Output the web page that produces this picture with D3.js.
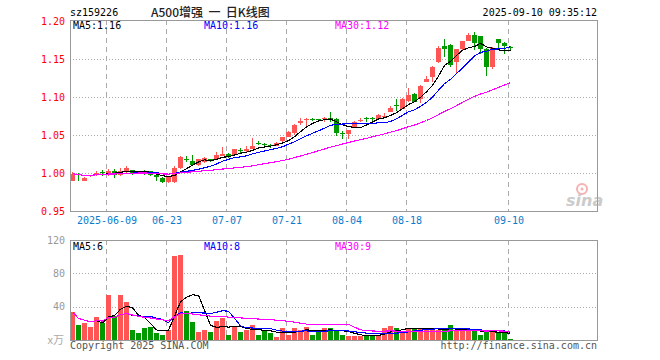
<!DOCTYPE html>
<html><head><meta charset="utf-8">
<script src="https://cdn.jsdelivr.net/npm/d3@7"></script>
<style>
html,body{margin:0;padding:0;background:#fff;}
svg{display:block;}
text{font-family:"DejaVu Sans Mono",monospace;font-size:10px;}
</style></head><body>
<svg id="c" width="660" height="360"></svg>
<script>
// ---- data ----
const opens  = [0.990,0.999,0.990,0.996,0.997,1.001,0.998,1.002,0.997,1.001,
                1.004,1.002,1.002,1.002,0.998,0.993,0.988,0.988,1.006,1.019,
                1.016,1.010,1.014,1.018,1.018,1.022,1.025,1.024,1.030,1.029,
                1.032,1.039,1.038,1.037,1.036,1.042,1.048,1.052,1.066,1.070,
                1.071,1.071,1.071,1.073,1.071,1.053,1.051,1.059,1.068,1.072,
                1.072,1.071,1.074,1.080,1.089,1.084,1.095,1.104,1.097,1.120,
                1.126,1.146,1.167,1.168,1.146,1.163,1.174,1.182,1.180,1.163,
                1.140,1.176,1.171,1.166];
const highs  = [1.001,1.000,0.995,0.998,1.002,1.004,1.005,1.005,1.007,1.009,
                1.004,1.003,1.004,1.002,0.998,0.995,0.996,1.009,1.023,1.023,
                1.024,1.019,1.021,1.019,1.027,1.034,1.026,1.032,1.033,1.035,
                1.046,1.042,1.040,1.038,1.041,1.048,1.055,1.064,1.073,1.072,
                1.072,1.071,1.074,1.080,1.072,1.055,1.057,1.068,1.072,1.074,
                1.074,1.077,1.079,1.088,1.097,1.099,1.112,1.105,1.116,1.128,
                1.141,1.167,1.176,1.170,1.163,1.174,1.184,1.185,1.180,1.164,
                1.166,1.176,1.173,1.167];
const lows   = [0.989,0.990,0.989,0.995,0.996,0.996,0.996,0.993,0.996,1.000,
                0.998,1.000,0.997,0.996,0.990,0.987,0.987,0.987,1.005,1.015,
                1.010,1.009,1.013,1.014,1.018,1.022,1.020,1.024,1.026,1.028,
                1.031,1.037,1.034,1.033,1.036,1.041,1.047,1.050,1.063,1.062,
                1.068,1.067,1.067,1.067,1.049,1.045,1.045,1.059,1.067,1.067,
                1.068,1.071,1.073,1.080,1.082,1.084,1.094,1.093,1.092,1.120,
                1.120,1.145,1.153,1.139,1.132,1.161,1.174,1.162,1.157,1.127,
                1.137,1.165,1.157,1.162];
const closes = [0.999,0.997,0.994,0.998,1.000,1.000,1.003,0.998,1.003,1.007,
                0.999,1.001,1.001,0.997,0.995,0.988,0.996,1.007,1.021,1.017,
                1.010,1.018,1.020,1.017,1.024,1.025,1.021,1.031,1.029,1.031,
                1.036,1.038,1.037,1.035,1.040,1.047,1.054,1.063,1.068,1.071,
                1.070,1.070,1.072,1.072,1.053,1.051,1.057,1.067,1.070,1.071,
                1.071,1.076,1.075,1.086,1.088,1.098,1.103,1.094,1.115,1.124,
                1.140,1.165,1.163,1.142,1.163,1.174,1.182,1.171,1.163,1.140,
                1.165,1.171,1.167,1.165];
const volumes = [34,17.5,20,16,28,21,53.5,28.5,53.5,46,
                 12.5,9,15,16,8,6.5,12.5,100.5,102,34.5,
                 21.5,9.5,12.5,10,22.5,26,6.5,16,10,12,
                 18.5,6.5,10.5,8,4,15,6.5,14,11.5,16,
                 6.5,10,14,14,11,6.5,4.5,4.5,4.5,6.5,
                 6.5,4.5,14,16.5,15,11,14.5,14.5,14.5,13,
                 12,12,12.5,17.5,12,12,12,10.5,6.5,10.5,
                 10.5,8.5,8.5,1.5];
const tickIndex  = [6,16,26,36,46,56,73];
const tickLabels = ["2025-06-09","06-23","07-07","07-21","08-04","08-18","09-10"];
const priceTicks = [0.95,1.00,1.05,1.10,1.15,1.20];
const volTicks   = [40,80,120];
const priceMALabels = ["MA5:1.16","MA10:1.16","MA30:1.12"];
const volMALabels   = ["MA5:6","MA10:8","MA30:9"];
const maPeriods = [5,10,30];
const maColors  = ["#000000","#0000ff","#ff00ff"];

// ---- helpers ----
function movingAvg(arr, n){
  // MA5/MA10 start once n points exist; MA30 uses the available points at the start
  return arr.map((_,i)=>{
    if(n<30 && i<n-1) return null;
    const s = Math.max(0,i-n+1);
    return d3.mean(arr.slice(s,i+1));
  });
}

const svg = d3.select("#c");
const N = closes.length;
const L = 70, R = 597;
const x  = d3.scaleLinear().domain([0,74]).range([70,514]);
const yP = d3.scaleLinear().domain([0.95,1.20]).range([211,21]);
const yV = d3.scaleLinear().domain([0,120]).range([340,240]);
const RED = "#ff5555", GREEN = "#009900", GRID = "#aaaaaa";

// ---- grids ----
const g = svg.append("g").attr("shape-rendering","crispEdges");
g.selectAll(".hp").data(priceTicks.filter(d=>d>0.95 && d<1.2)).join("line")
  .attr("x1",L).attr("x2",R)
  .attr("y1",d=>Math.round(yP(d))+0.5).attr("y2",d=>Math.round(yP(d))+0.5)
  .attr("stroke",GRID).attr("stroke-dasharray","1,2");
g.selectAll(".hv").data(volTicks.filter(d=>d<120)).join("line")
  .attr("x1",L).attr("x2",R)
  .attr("y1",d=>Math.round(yV(d))+0.5).attr("y2",d=>Math.round(yV(d))+0.5)
  .attr("stroke",GRID).attr("stroke-dasharray","1,2");
[[20,211],[240,340]].forEach(([t,b])=>{
  g.append("g").selectAll("line").data(tickIndex).join("line")
    .attr("x1",d=>x(d)+0.5).attr("x2",d=>x(d)+0.5)
    .attr("y1",t).attr("y2",b)
    .attr("stroke",GRID).attr("stroke-dasharray","5,4");
});

// ---- candles ----
const cg = svg.append("g").attr("shape-rendering","crispEdges");
const idx = d3.range(N);
cg.selectAll(".wick").data(idx).join("line")
  .attr("x1",i=>x(i)+2.5).attr("x2",i=>x(i)+2.5)
  .attr("y1",i=>yP(highs[i])).attr("y2",i=>yP(lows[i]))
  .attr("stroke",i=>closes[i]>=opens[i]?RED:GREEN);
cg.selectAll(".body").data(idx).join("rect")
  .attr("x",i=>x(i)).attr("width",5)
  .attr("y",i=>yP(Math.max(opens[i],closes[i])))
  .attr("height",i=>Math.max(1,Math.abs(yP(opens[i])-yP(closes[i]))))
  .attr("fill",i=>closes[i]>=opens[i]?RED:GREEN);

// ---- volume bars ----
cg.selectAll(".vol").data(idx).join("rect")
  .attr("x",i=>x(i)).attr("width",5)
  .attr("y",i=>yV(volumes[i])).attr("height",i=>yV(0)-yV(volumes[i]))
  .attr("fill",i=>closes[i]>=opens[i]?RED:GREEN);

// ---- moving average lines ----
function drawMA(arr, yScale){
  maPeriods.forEach((n,k)=>{
    const m = movingAvg(arr,n);
    const line = d3.line().defined(d=>d!=null)
      .x((d,i)=>x(i)+2.5).y(d=>yScale(d));
    svg.append("path").datum(m).attr("d",line)
      .attr("fill","none").attr("stroke",maColors[k]).attr("stroke-width",1.1)
      .attr("shape-rendering","crispEdges");
  });
}
drawMA(closes,yP);
drawMA(volumes,yV);

// ---- borders ----
svg.append("rect").attr("x",70.5).attr("y",20.5).attr("width",527).attr("height",191)
  .attr("fill","none").attr("stroke","#999").attr("shape-rendering","crispEdges");
svg.append("rect").attr("x",70.5).attr("y",240.5).attr("width",527).attr("height",100)
  .attr("fill","none").attr("stroke","#999").attr("shape-rendering","crispEdges");

// ---- axes ----
const ap = svg.append("g").attr("transform","translate(70,0)")
  .call(d3.axisLeft(yP).tickValues(priceTicks).tickFormat(d3.format(".2f")).tickSize(0).tickPadding(5));
ap.select(".domain").remove();
ap.selectAll("text").attr("fill","#ff0000").style("font-family","DejaVu Sans Mono").style("font-size","10px");

const av = svg.append("g").attr("transform","translate(70,0)")
  .call(d3.axisLeft(yV).tickValues(volTicks).tickSize(0).tickPadding(5));
av.select(".domain").remove();
av.selectAll("text").attr("fill","#999").style("font-family","DejaVu Sans Mono").style("font-size","10px");

const xc = d3.scaleLinear().domain([0,74]).range([70.5,514.5]);
const ax = svg.append("g").attr("transform","translate(0,211)")
  .call(d3.axisBottom(xc).tickValues(tickIndex).tickFormat((d,i)=>tickLabels[i]).tickSize(0).tickPadding(6));
ax.select(".domain").remove();
ax.selectAll("text").attr("fill","#0a7ccc").style("font-family","DejaVu Sans Mono").style("font-size","10px");

// ---- texts ----
svg.append("text").attr("x",70).attr("y",16).attr("fill","#000").text("sz159226");
svg.append("text").attr("x",151).attr("y",17).attr("fill","#222")
  .style("font-family","'Noto Sans CJK SC'").style("font-size","12px").style("font-weight","500")
  .attr("xml:space","preserve").text("A500增强  一  日K线图");
svg.append("text").attr("x",597).attr("y",16).attr("text-anchor","end").attr("fill","#000")
  .text("2025-09-10 09:35:12");
const labX = [73,204,335];
priceMALabels.forEach((t,k)=>svg.append("text").attr("x",labX[k]).attr("y",29).attr("fill",maColors[k]).text(t));
volMALabels.forEach((t,k)=>svg.append("text").attr("x",labX[k]).attr("y",250).attr("fill",maColors[k]).text(t));
svg.append("text").attr("x",64).attr("y",344).attr("text-anchor","end").attr("fill","#aaa")
  .style("font-family","'Noto Sans CJK SC'").style("font-size","11px").text("x万");
svg.append("text").attr("x",70).attr("y",349).attr("fill","#555").text("Copyright 2025 SINA.COM");
svg.append("text").attr("x",597).attr("y",349).attr("text-anchor","end").attr("fill","#555").text("http://finance.sina.com.cn");

// ---- sina watermark ----
const wm = svg.append("g").attr("opacity",0.6);
wm.append("circle").attr("cx",582).attr("cy",189).attr("r",5).attr("fill","none").attr("stroke","#f08080").attr("stroke-width",2);
wm.append("circle").attr("cx",582).attr("cy",189).attr("r",1.5).attr("fill","#f08080");
wm.append("text").attr("x",566).attr("y",206).attr("fill","#aaa")
  .style("font-family","'DejaVu Sans'").style("font-size","16px").style("font-weight","bold").style("font-style","italic").text("sina");
</script></body></html>
